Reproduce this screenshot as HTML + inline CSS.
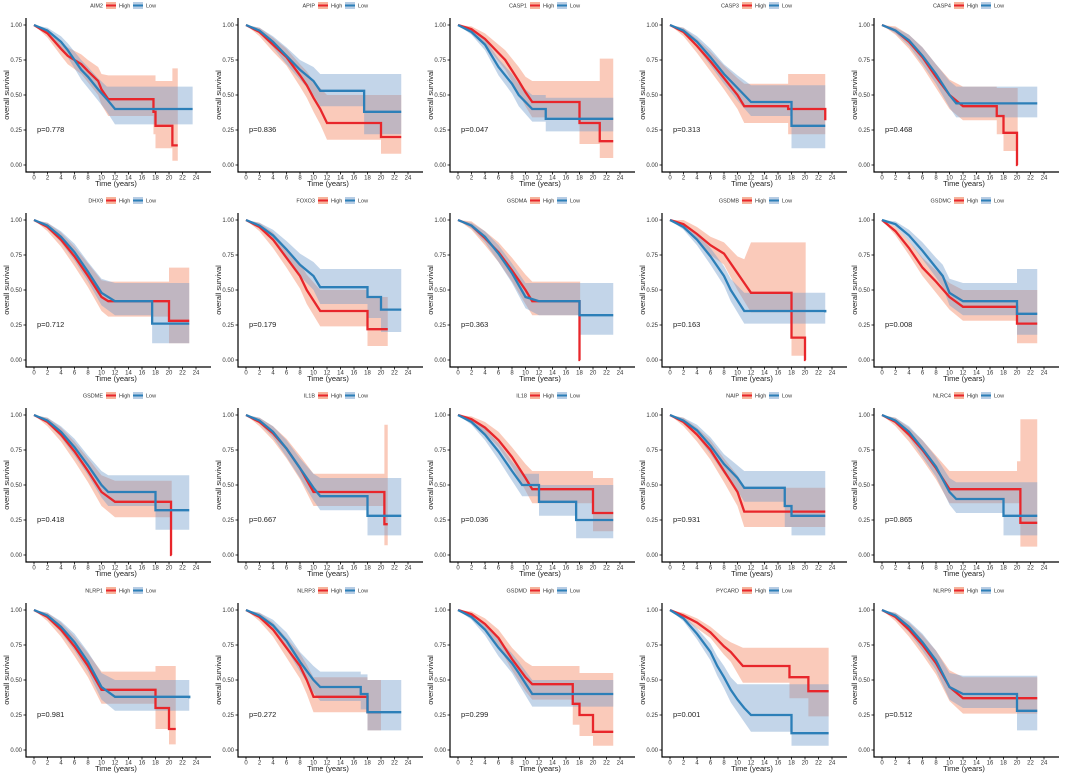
<!DOCTYPE html>
<html><head><meta charset="utf-8">
<style>
html,body{margin:0;padding:0;background:#fff;}
svg{display:block;font-family:"Liberation Sans",sans-serif;}
</style></head>
<body>
<svg id="chart" width="1065" height="777" viewBox="0 0 1065 777" xmlns="http://www.w3.org/2000/svg"></svg>
<script>
// gene names per panel
const genes = ["AIM2","APIP","CASP1","CASP3","CASP4","DHX9","FOXO3","GSDMA","GSDMB","GSDMC","GSDME","IL1B","IL18","NAIP","NLRC4","NLRP1","NLRP3","GSDMD","PYCARD","NLRP9"];
const pvalues = ["p=0.778","p=0.836","p=0.047","p=0.313","p=0.468","p=0.712","p=0.179","p=0.363","p=0.163","p=0.008","p=0.418","p=0.667","p=0.036","p=0.931","p=0.865","p=0.981","p=0.272","p=0.299","p=0.001","p=0.512"];
const xTicks = [0,2,4,6,8,10,12,14,16,18,20,22,24];
const yTicks = [0,0.25,0.5,0.75,1];
const yTickLabels = ["0.00","0.25","0.50","0.75","1.00"];
// each point: [time, survival, lowerCI, upperCI]
const highSeries = [
 [[0,1,1,1],[2,.94,.91,.97],[4,.83,.78,.88],[5,.78,.72,.84],[7,.72,.65,.79],[8,.67,.59,.75],[9.5,.6,.5,.7],[10,.54,.43,.65],[11,.47,.35,.64],[17.7,.38,.22,.64],[18,.28,.12,.6],[20.5,.14,.03,.69],[21.3,.14,.03,.69]],
 [[0,1,1,1],[2,.95,.92,.98],[4,.86,.81,.91],[6,.77,.71,.83],[8,.64,.56,.72],[9,.57,.48,.67],[10,.48,.38,.6],[11,.4,.29,.55],[12,.3,.18,.5],[20,.2,.08,.5],[23,.2,.08,.5]],
 [[0,1,1,1],[2,.97,.95,.99],[4,.9,.86,.94],[6,.8,.74,.86],[7,.75,.68,.82],[9,.6,.51,.7],[10,.52,.42,.63],[11,.45,.34,.6],[18,.3,.15,.6],[21,.17,.05,.76],[23,.17,.05,.76]],
 [[0,1,1,1],[2,.95,.92,.98],[4,.85,.8,.9],[6,.74,.67,.81],[8,.62,.54,.71],[10,.5,.4,.62],[11,.42,.3,.58],[17,.42,.3,.58],[17.5,.4,.22,.65],[23,.32,.12,.65]],
 [[0,1,1,1],[2,.96,.93,.99],[4,.88,.83,.93],[6,.77,.7,.84],[8,.63,.55,.72],[10,.5,.4,.61],[12,.42,.32,.56],[17,.35,.22,.55],[18,.23,.1,.55],[20,0,0,.55],[20.1,0,0,0]],
 [[0,1,1,1],[2,.95,.92,.98],[4,.86,.81,.91],[6,.74,.67,.81],[8,.6,.52,.69],[10,.45,.35,.57],[11,.42,.31,.56],[20,.28,.12,.66],[23,.28,.12,.66]],
 [[0,1,1,1],[2,.95,.92,.98],[4,.86,.8,.91],[6,.73,.66,.8],[8,.6,.51,.69],[9,.5,.4,.61],[11,.35,.24,.5],[17,.35,.24,.5],[18,.22,.1,.45],[21,.22,.1,.45]],
 [[0,1,1,1],[2,.96,.93,.99],[4,.87,.82,.92],[6,.77,.7,.84],[8,.64,.56,.73],[10,.5,.4,.61],[11,.42,.32,.56],[17.8,.42,.32,.56],[18,0,0,.56],[18.1,0,0,0]],
 [[0,1,1,1],[2,.97,.94,1],[4,.9,.85,.95],[6,.82,.75,.88],[8,.76,.68,.84],[10,.62,.5,.74],[11,.55,.42,.72],[12,.48,.34,.84],[17,.48,.34,.84],[18,.16,.03,.84],[20,0,0,.84],[20.1,0,0,0]],
 [[0,1,1,1],[2,.92,.89,.95],[4,.8,.75,.85],[6,.66,.6,.73],[8,.56,.48,.64],[10,.45,.36,.55],[12,.38,.28,.5],[20,.26,.12,.5],[23,.26,.12,.5]],
 [[0,1,1,1],[2,.95,.92,.98],[4,.86,.81,.91],[6,.74,.67,.81],[8,.6,.52,.69],[10,.45,.35,.57],[12,.38,.27,.53],[20,.38,.27,.53],[20.3,0,0,.53],[20.4,0,0,0]],
 [[0,1,1,1],[2,.95,.92,.98],[4,.87,.82,.92],[6,.76,.69,.83],[8,.62,.54,.71],[10,.45,.35,.58],[20,.45,.35,.58],[20.5,.22,.07,.93],[21,.22,.07,.93]],
 [[0,1,1,1],[2,.97,.95,.99],[4,.91,.87,.95],[6,.82,.77,.88],[8,.7,.63,.77],[10,.55,.46,.65],[11,.47,.37,.6],[20,.3,.17,.55],[23,.3,.17,.55]],
 [[0,1,1,1],[2,.95,.92,.98],[4,.86,.81,.91],[6,.75,.68,.82],[8,.6,.52,.69],[10,.45,.35,.57],[11,.31,.2,.48],[23,.31,.2,.48]],
 [[0,1,1,1],[2,.95,.92,.98],[4,.86,.81,.91],[6,.75,.68,.82],[8,.62,.54,.71],[10,.47,.37,.6],[20,.47,.37,.67],[20.5,.23,.06,.97],[23,.23,.06,.97]],
 [[0,1,1,1],[2,.95,.92,.98],[4,.86,.81,.91],[6,.74,.67,.81],[8,.6,.52,.69],[10,.43,.33,.56],[18,.3,.15,.6],[20,.15,.04,.6],[21,.15,.04,.6]],
 [[0,1,1,1],[2,.95,.92,.98],[4,.86,.81,.91],[6,.73,.66,.8],[8,.6,.51,.69],[9,.5,.4,.61],[10,.38,.27,.52],[17,.38,.27,.52],[18,.27,.14,.5],[20,.27,.14,.5]],
 [[0,1,1,1],[2,.97,.95,.99],[4,.9,.86,.94],[6,.8,.74,.86],[8,.65,.57,.73],[10,.52,.42,.63],[11,.47,.36,.6],[17,.33,.18,.6],[18,.25,.1,.55],[20,.13,.03,.55],[23,.13,.03,.55]],
 [[0,1,1,1],[2,.96,.94,.98],[4,.91,.87,.94],[6,.84,.8,.88],[8,.74,.68,.8],[9,.7,.63,.77],[10.8,.6,.48,.73],[17.7,.52,.37,.73],[20.5,.42,.24,.73],[23.5,.42,.24,.73]],
 [[0,1,1,1],[2,.95,.92,.98],[4,.86,.81,.91],[6,.75,.68,.82],[8,.62,.54,.71],[10,.45,.35,.57],[12,.37,.26,.52],[23,.37,.26,.52]]
];
const lowSeries = [
 [[0,1,1,1],[2,.96,.94,.98],[4,.88,.84,.92],[5,.82,.77,.87],[6,.75,.69,.81],[7,.68,.61,.75],[8,.63,.55,.7],[9.5,.54,.46,.62],[10.8,.47,.38,.56],[12,.4,.29,.56],[23.5,.4,.29,.56]],
 [[0,1,1,1],[2,.96,.94,.98],[4,.88,.84,.92],[6,.78,.72,.84],[8,.68,.61,.75],[10,.6,.5,.7],[11,.53,.42,.65],[17.5,.38,.22,.65],[23,.38,.22,.65]],
 [[0,1,1,1],[2,.95,.93,.97],[4,.86,.82,.9],[6,.7,.64,.76],[8,.58,.51,.65],[9,.5,.42,.58],[11,.4,.31,.5],[13,.33,.24,.48],[23,.33,.24,.48]],
 [[0,1,1,1],[2,.96,.94,.98],[4,.88,.84,.92],[6,.77,.71,.83],[8,.65,.58,.72],[10,.55,.46,.64],[12,.45,.35,.57],[18,.28,.12,.57],[23,.28,.12,.57]],
 [[0,1,1,1],[2,.96,.94,.98],[4,.89,.85,.93],[6,.78,.72,.84],[8,.65,.58,.72],[10,.5,.41,.6],[11,.44,.34,.56],[23,.44,.34,.56]],
 [[0,1,1,1],[2,.96,.94,.98],[4,.88,.84,.92],[6,.77,.71,.83],[8,.63,.56,.7],[10,.48,.39,.58],[12,.42,.32,.55],[17.5,.26,.12,.55],[23,.26,.12,.55]],
 [[0,1,1,1],[2,.96,.94,.98],[4,.89,.85,.93],[6,.79,.73,.85],[8,.68,.6,.76],[10,.6,.5,.7],[11,.52,.4,.65],[18,.45,.3,.65],[20,.36,.2,.65],[23,.36,.2,.65]],
 [[0,1,1,1],[2,.96,.94,.98],[4,.88,.84,.92],[6,.76,.7,.82],[8,.62,.55,.69],[10,.45,.37,.55],[12,.42,.32,.55],[18,.32,.18,.55],[23,.32,.18,.55]],
 [[0,1,1,1],[2,.95,.93,.97],[4,.86,.82,.9],[6,.74,.68,.8],[8,.6,.53,.67],[9,.5,.42,.58],[11,.35,.26,.48],[23,.34,.25,.48]],
 [[0,1,1,1],[2,.97,.95,.99],[4,.89,.85,.93],[6,.78,.72,.84],[8,.66,.59,.73],[9,.6,.52,.68],[10,.48,.39,.58],[12,.42,.32,.55],[20,.33,.18,.65],[23,.33,.18,.65]],
 [[0,1,1,1],[2,.96,.94,.98],[4,.88,.84,.92],[6,.77,.71,.83],[8,.64,.57,.71],[10,.5,.41,.6],[11,.45,.35,.57],[18,.32,.18,.57],[23,.32,.18,.57]],
 [[0,1,1,1],[2,.96,.94,.98],[4,.88,.84,.92],[6,.76,.7,.82],[8,.62,.55,.69],[10,.48,.39,.58],[11,.42,.32,.55],[18,.28,.14,.55],[23,.28,.14,.55]],
 [[0,1,1,1],[2,.95,.93,.97],[4,.86,.82,.9],[6,.74,.68,.8],[8,.6,.53,.67],[9.5,.5,.42,.58],[12,.38,.28,.5],[17.5,.25,.12,.5],[23,.25,.12,.5]],
 [[0,1,1,1],[2,.96,.94,.98],[4,.89,.85,.93],[6,.78,.72,.84],[8,.65,.58,.72],[10,.55,.46,.64],[11,.48,.38,.6],[17,.35,.2,.6],[18,.28,.14,.6],[23,.28,.14,.6]],
 [[0,1,1,1],[2,.96,.94,.98],[4,.88,.84,.92],[6,.76,.7,.82],[8,.63,.56,.7],[10,.45,.36,.55],[11,.4,.3,.52],[18,.28,.14,.52],[23,.28,.14,.52]],
 [[0,1,1,1],[2,.96,.94,.98],[4,.88,.84,.92],[6,.77,.71,.83],[8,.63,.56,.7],[10,.45,.36,.55],[12,.38,.28,.5],[23,.37,.26,.5]],
 [[0,1,1,1],[2,.96,.94,.98],[4,.89,.85,.93],[6,.78,.72,.84],[8,.63,.56,.7],[10,.5,.41,.6],[11,.45,.35,.56],[17,.4,.29,.54],[18,.27,.14,.5],[23,.27,.14,.5]],
 [[0,1,1,1],[2,.95,.93,.97],[4,.86,.82,.9],[6,.73,.67,.79],[8,.62,.55,.69],[9,.55,.47,.63],[11,.4,.31,.5],[23,.4,.3,.5]],
 [[0,1,1,1],[2,.94,.92,.96],[4,.83,.79,.87],[6,.7,.64,.76],[7,.6,.53,.67],[8,.52,.44,.6],[9,.43,.34,.52],[10,.36,.27,.47],[11,.3,.2,.47],[12,.25,.13,.47],[18,.12,.03,.47],[23.5,.12,.03,.47]],
 [[0,1,1,1],[2,.96,.94,.98],[4,.88,.84,.92],[6,.77,.71,.83],[8,.64,.57,.71],[10,.45,.36,.55],[12,.4,.3,.53],[20,.28,.14,.53],[23,.28,.14,.53]]
];

const NS="http://www.w3.org/2000/svg";
const svg=document.getElementById('chart');
const COLW=212, ROWH=195;
function mk(tag,attrs,parent){const e=document.createElementNS(NS,tag);for(const k in attrs)e.setAttribute(k,attrs[k]);parent.appendChild(e);return e;}
// dense early events (many tiny steps) drawn as a smooth run; sparse later events as true steps
function seg(t0,t1){return (t1-t0)<=2.05 && t1<=12.01;}
function stepLine(pts,xs,ys){let d="M"+xs(pts[0][0])+","+ys(pts[0][1]);
 for(let i=1;i<pts.length;i++){ if(seg(pts[i-1][0],pts[i][0])) d+="L"+xs(pts[i][0])+","+ys(pts[i][1]); else d+="H"+xs(pts[i][0])+"V"+ys(pts[i][1]);}
 return d;}
function stepBand(pts,xs,ys){let up="M"+xs(pts[0][0])+","+ys(pts[0][3]);
 for(let i=1;i<pts.length;i++){ if(seg(pts[i-1][0],pts[i][0])) up+="L"+xs(pts[i][0])+","+ys(pts[i][3]); else up+="H"+xs(pts[i][0])+"V"+ys(pts[i][3]);}
 let lo="";
 for(let i=pts.length-1;i>=1;i--){ lo+="L"+xs(pts[i][0])+","+ys(pts[i][2]); if(!seg(pts[i-1][0],pts[i][0])) lo+="L"+xs(pts[i][0])+","+ys(pts[i-1][2]);}
 lo+="L"+xs(pts[0][0])+","+ys(pts[0][2])+"Z";return up+lo;}

genes.forEach((g,i)=>{
 const c=i%5, r=Math.floor(i/5);
 const ox=c*COLW, oy=r*ROWH;
 const gp=mk('g',{transform:`translate(${ox},${oy})`},svg);
 
 
 const xs=t=>+(34+t*(162/24)).toFixed(2);
 const ys=s=>+(165-s*140).toFixed(2);
 const lg=mk('g',{},gp);
 
 
 const lt=mk('text',{x:103,y:7.5,'font-size':5.5,'text-anchor':'end',fill:'#333'},lg);lt.textContent=g;
 mk('rect',{x:106,y:2,width:10,height:7,fill:'#f6b49c'},lg);mk('rect',{x:106,y:4.5,width:10,height:2,fill:'#e8262b'},lg);
 const lh=mk('text',{x:119,y:7.5,'font-size':5.5,fill:'#333'},lg);lh.textContent='High';
 mk('rect',{x:133,y:2,width:10,height:7,fill:'#b8cde4'},lg);mk('rect',{x:133,y:4.5,width:10,height:2,fill:'#2c7fb8'},lg);
 const ll=mk('text',{x:146,y:7.5,'font-size':5.5,fill:'#333'},lg);ll.textContent='Low';
 const bh=mk('path',{d:stepBand(highSeries[i],xs,ys),fill:'#f4805a','fill-opacity':0.42},gp);
 
 const bl=mk('path',{d:stepBand(lowSeries[i],xs,ys),fill:'#6f9bcb','fill-opacity':0.42},gp);
 
 const lh2=mk('path',{d:stepLine(highSeries[i],xs,ys),fill:'none',stroke:'#e8262b','stroke-width':2.3},gp);
 
 const ll2=mk('path',{d:stepLine(lowSeries[i],xs,ys),fill:'none',stroke:'#2c7fb8','stroke-width':2.3},gp);
 
 const ax=mk('path',{d:'M26,18V172H211',fill:'none',stroke:'#000','stroke-width':1.2},gp);
 
 yTicks.forEach((v,k)=>{mk('line',{x1:23.5,x2:26,y1:ys(v),y2:ys(v),stroke:'#000','stroke-width':0.8},gp);
  const t=mk('text',{x:22,y:ys(v)+2,'font-size':6,'text-anchor':'end',fill:'#333'},gp);t.textContent=yTickLabels[k];
  });
 xTicks.forEach(v=>{mk('line',{x1:xs(v),x2:xs(v),y1:172,y2:174.5,stroke:'#000','stroke-width':0.8},gp);
  const t=mk('text',{x:xs(v),y:179.5,'font-size':6,'text-anchor':'middle',fill:'#333'},gp);t.textContent=v;
  });
 const xt=mk('text',{x:116,y:186,'font-size':7.5,'text-anchor':'middle',fill:'#222'},gp);xt.textContent='Time (years)';
 
 const yt=mk('text',{x:0,y:0,'font-size':7.5,'text-anchor':'middle',fill:'#222',transform:'translate(9,95) rotate(-90)'},gp);yt.textContent='overall survival';
 
 const pv=mk('text',{x:37,y:132,'font-size':7.5,fill:'#222'},gp);pv.textContent=pvalues[i];
 
});
</script>
</body></html>
